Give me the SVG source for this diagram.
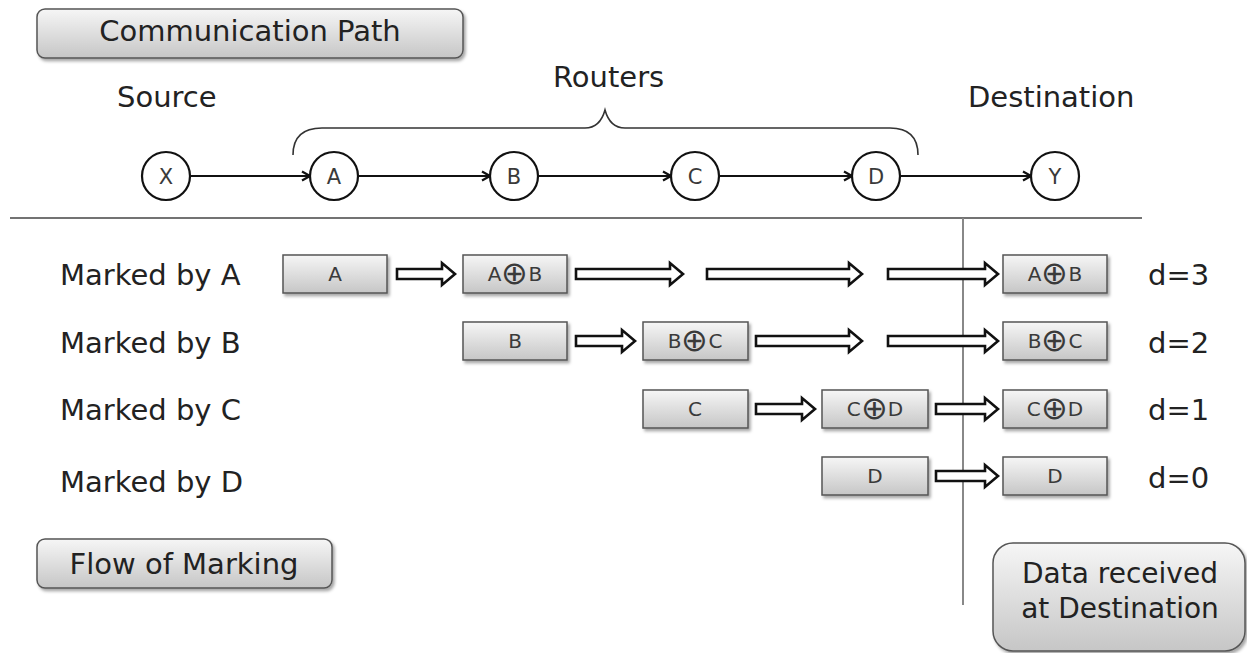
<svg xmlns="http://www.w3.org/2000/svg" width="1247" height="653" viewBox="0 0 1247 653">
<defs>
  <linearGradient id="g" x1="0" y1="0" x2="0" y2="1">
    <stop offset="0" stop-color="#f6f6f6"/>
    <stop offset="1" stop-color="#c6c6c6"/>
  </linearGradient>
  <filter id="sh" x="-10%" y="-20%" width="130%" height="160%">
    <feDropShadow dx="2" dy="2.5" stdDeviation="1.8" flood-color="#000" flood-opacity="0.35"/>
  </filter>
  <marker id="ah" viewBox="0 0 12 12" refX="11" refY="6" markerWidth="12" markerHeight="12" markerUnits="userSpaceOnUse" orient="auto">
    <path d="M3,1.5 L11,6 L3,10.5" fill="none" stroke="#111" stroke-width="2.2" stroke-linejoin="miter"/>
  </marker>
  <style>
    text { font-family: "DejaVu Sans", Verdana, sans-serif; fill: #222; }
    .big { font-size: 29px; }
    .sm { font-size: 20px; fill: #3a3a3a; text-anchor: middle; }
    .op { font-size: 32px; fill: #3a3a3a; font-weight: 200; }
    .node circle { fill: #fff; stroke: #111; stroke-width: 2.2; }
    .node text { font-size: 21px; text-anchor: middle; fill: #3a3a3a; }
    .box rect { fill: url(#g); stroke: #555; stroke-width: 1.5; filter: url(#sh); }
    .blk { fill: #fff; stroke: #111; stroke-width: 2.6; stroke-linejoin: miter; }
    .ln { stroke: #111; stroke-width: 2.2; fill: none; marker-end: url(#ah); }
    .mid { text-anchor: middle; }
  </style>
</defs>
<rect width="1247" height="653" fill="#fff"/>

<g id="title-comm" class="box">
  <rect x="37" y="9" width="426" height="49" rx="8"/>
  <text class="big mid" x="250" y="41">Communication Path</text>
</g>
<g id="label-source"><text class="big" x="117" y="107">Source</text></g>
<g id="label-routers"><text class="big" x="553" y="87">Routers</text></g>
<g id="label-destination"><text class="big" x="968" y="107">Destination</text></g>

<g id="brace">
  <path d="M293,155 Q293,128 322,128 L585,128 Q600,128 605,110 Q610,128 625,128 L890,128 Q918,128 918,155" fill="none" stroke="#333" stroke-width="1.6"/>
</g>

<g id="node-X" class="node"><circle cx="166" cy="176" r="24"/><text x="166" y="184">X</text></g>
<g id="node-A" class="node"><circle cx="334" cy="176" r="24"/><text x="334" y="184">A</text></g>
<g id="node-B" class="node"><circle cx="514" cy="176" r="24"/><text x="514" y="184">B</text></g>
<g id="node-C" class="node"><circle cx="695" cy="176" r="24"/><text x="695" y="184">C</text></g>
<g id="node-D" class="node"><circle cx="876" cy="176" r="24"/><text x="876" y="184">D</text></g>
<g id="node-Y" class="node"><circle cx="1055" cy="176" r="24"/><text x="1055" y="184">Y</text></g>

<g id="dividers">
  <line x1="10" y1="218" x2="1142" y2="218" stroke="#444" stroke-width="1.6"/>
  <line x1="963" y1="218" x2="963" y2="605" stroke="#888" stroke-width="2"/>
</g>

<g id="row-labels">
  <text class="big" x="60" y="285">Marked by A</text>
  <text class="big" x="60" y="353">Marked by B</text>
  <text class="big" x="60" y="420">Marked by C</text>
  <text class="big" x="60" y="492">Marked by D</text>
  <text class="big" x="1148" y="285">d=3</text>
  <text class="big" x="1148" y="353">d=2</text>
  <text class="big" x="1148" y="420">d=1</text>
  <text class="big" x="1148" y="488">d=0</text>
</g>

<!-- Row 1 -->
<g id="r1-A" class="box"><rect x="283" y="255" width="104" height="38"/><text class="sm" x="335" y="281">A</text></g>
<g id="r1-AB" class="box"><rect x="463" y="255" width="104" height="38"/><text class="sm" x="515" y="281">A<tspan class="op" dy="3">⊕</tspan><tspan dy="-3">B</tspan></text></g>
<g id="r1-AB-dest" class="box"><rect x="1003" y="255" width="104" height="38"/><text class="sm" x="1055" y="281">A<tspan class="op" dy="3">⊕</tspan><tspan dy="-3">B</tspan></text></g>
<!-- Row 2 -->
<g id="r2-B" class="box"><rect x="463" y="322" width="104" height="38"/><text class="sm" x="515" y="348">B</text></g>
<g id="r2-BC" class="box"><rect x="643" y="322" width="105" height="38"/><text class="sm" x="695" y="348">B<tspan class="op" dy="3">⊕</tspan><tspan dy="-3">C</tspan></text></g>
<g id="r2-BC-dest" class="box"><rect x="1003" y="322" width="104" height="38"/><text class="sm" x="1055" y="348">B<tspan class="op" dy="3">⊕</tspan><tspan dy="-3">C</tspan></text></g>
<!-- Row 3 -->
<g id="r3-C" class="box"><rect x="643" y="390" width="105" height="38"/><text class="sm" x="695" y="416">C</text></g>
<g id="r3-CD" class="box"><rect x="822" y="390" width="106" height="38"/><text class="sm" x="875" y="416">C<tspan class="op" dy="3">⊕</tspan><tspan dy="-3">D</tspan></text></g>
<g id="r3-CD-dest" class="box"><rect x="1003" y="390" width="104" height="38"/><text class="sm" x="1055" y="416">C<tspan class="op" dy="3">⊕</tspan><tspan dy="-3">D</tspan></text></g>
<!-- Row 4 -->
<g id="r4-D" class="box"><rect x="822" y="457" width="106" height="38"/><text class="sm" x="875" y="483">D</text></g>
<g id="r4-D-dest" class="box"><rect x="1003" y="457" width="104" height="38"/><text class="sm" x="1055" y="483">D</text></g>

<g id="title-flow" class="box">
  <rect x="37" y="539" width="295" height="49" rx="8"/>
  <text class="big mid" x="184" y="574">Flow of Marking</text>
</g>
<g id="title-data" class="box">
  <rect x="993" y="543" width="252" height="108" rx="20"/>
  <text class="big mid" x="1120" y="583" style="font-size:28px">Data received</text>
  <text class="big mid" x="1120" y="618" style="font-size:28px">at Destination</text>
</g>

<g id="connectors">
  <line class="ln" x1="190" y1="176" x2="310" y2="176"/>
  <line class="ln" x1="358" y1="176" x2="490" y2="176"/>
  <line class="ln" x1="538" y1="176" x2="671" y2="176"/>
  <line class="ln" x1="719" y1="176" x2="852" y2="176"/>
  <line class="ln" x1="900" y1="176" x2="1031" y2="176"/>

  <path class="blk" d="M397,269 L442,269 L442,263 L455,274 L442,285 L442,279 L397,279 Z"/>
  <path class="blk" d="M576,269 L670,269 L670,263 L683,274 L670,285 L670,279 L576,279 Z"/>
  <path class="blk" d="M707,269 L849,269 L849,263 L862,274 L849,285 L849,279 L707,279 Z"/>
  <path class="blk" d="M888,269 L985,269 L985,263 L998,274 L985,285 L985,279 L888,279 Z"/>

  <path class="blk" d="M576,336 L622,336 L622,330 L635,341 L622,352 L622,346 L576,346 Z"/>
  <path class="blk" d="M756,336 L849,336 L849,330 L862,341 L849,352 L849,346 L756,346 Z"/>
  <path class="blk" d="M888,336 L985,336 L985,330 L998,341 L985,352 L985,346 L888,346 Z"/>

  <path class="blk" d="M756,404 L802,404 L802,398 L815,409 L802,420 L802,414 L756,414 Z"/>
  <path class="blk" d="M936,404 L985,404 L985,398 L998,409 L985,420 L985,414 L936,414 Z"/>

  <path class="blk" d="M936,471 L985,471 L985,465 L998,476 L985,487 L985,481 L936,481 Z"/>
</g>
</svg>
